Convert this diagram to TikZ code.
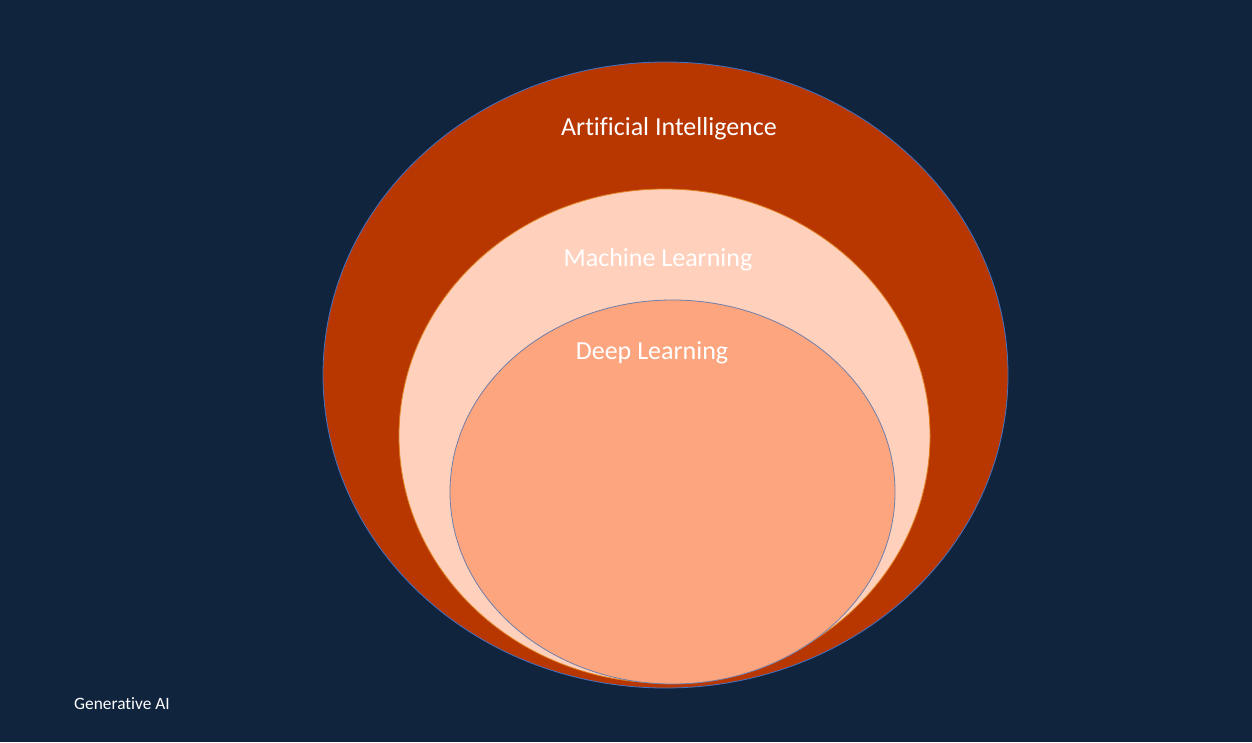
\documentclass[tikz,border=0pt]{standalone}
\usepackage{fontspec}
\setmainfont[Ligatures=NoCommon]{Carlito}
\definecolor{bg}{HTML}{10243E}
\definecolor{aifill}{HTML}{B83700}
\definecolor{ailine}{HTML}{4472C4}
\definecolor{mlfill}{HTML}{FFD0BC}
\definecolor{mlline}{HTML}{E0801E}
\definecolor{dlfill}{HTML}{FCA57F}
\definecolor{dlline}{HTML}{6F7FAA}
\tikzset{
  lbl/.style={text=white, inner sep=0pt, font=\fontsize{19.5}{22}\selectfont},
  ring/.style={line width=0.6pt}
}
\begin{document}
\begin{tikzpicture}[x=0.75pt,y=-0.75pt]
\fill[bg] (0,0) rectangle (1252,742);
\useasboundingbox (0,0) rectangle (1252,742);
\draw[ring, fill=aifill, draw=ailine] (665.5,375) ellipse [x radius=256.875pt, y radius=234.75pt];
\draw[ring, fill=mlfill, draw=mlline] (664.5,436) ellipse [x radius=199.125pt, y radius=185.25pt];
\draw[ring, fill=dlfill, draw=dlline] (672.5,492) ellipse [x radius=166.875pt, y radius=144pt];
\node[lbl] (ai) at (669,129) {Artificial Intelligence};
\node[lbl] (ml) at (658,260) {Machine Learning};
\node[lbl] (dl) at (652,353) {Deep Learning};
\node[lbl, font=\fontsize{13}{15}\selectfont] (gen) at (122,704) {Generative AI};
\end{tikzpicture}
\end{document}
